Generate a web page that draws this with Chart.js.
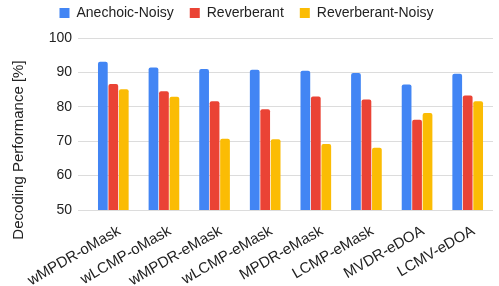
<!DOCTYPE html>
<html lang="en">
<head>
<meta charset="UTF-8">
<title>Decoding Performance</title>
<script src="https://cdn.jsdelivr.net/npm/chart.js@4.4.0/dist/chart.umd.min.js"></script>
<style>
  html, body { margin: 0; padding: 0; background: #fff; }
  #wrap { width: 499px; height: 286px; }
</style>
</head>
<body>
<div id="wrap"><canvas id="chart1"></canvas></div>
<script>
var methods = ['wMPDR-oMask', 'wLCMP-oMask', 'wMPDR-eMask', 'wLCMP-eMask', 'MPDR-eMask', 'LCMP-eMask', 'MVDR-eDOA', 'LCMV-eDOA'];
var anechoicNoisy = [93.1, 91.4, 91.0, 90.8, 90.5, 89.8, 86.5, 89.6];
var reverberant = [86.6, 84.5, 81.6, 79.3, 83.0, 82.1, 76.2, 83.3];
var reverberantNoisy = [85.1, 82.9, 70.7, 70.6, 69.2, 68.1, 78.2, 81.6];
var yTicks = [50, 60, 70, 80, 90, 100];
var yTitle = 'Decoding Performance [%]';

var FONT = "'Liberation Sans', Arial, sans-serif";

// y title sits lower than the scale middle in the original, draw it by hand
var yTitlePlugin = {
  id: 'yTitle',
  afterDraw: function (chart) {
    var c = chart.ctx;
    c.save();
    c.translate(19, 150);
    c.rotate(-Math.PI / 2);
    c.font = '15px ' + FONT;
    c.fillStyle = '#222';
    c.textAlign = 'center';
    c.textBaseline = 'middle';
    c.fillText(yTitle, 0, 0);
    c.restore();
  }
};

// legend sits high up near the top edge, plot starts a bit below
var legendPos = {
  id: 'legendPos',
  beforeInit: function (chart) {
    var fit = chart.legend.fit;
    chart.legend.fit = function () {
      fit.call(this);
      this.height -= 2;
    };
  },
  afterLayout: function (chart) {
    chart.legend.top -= 10;
  }
};

var ctx = document.getElementById('chart1').getContext('2d');
var myChart = new Chart(ctx, {
  type: 'bar',
  data: {
    labels: methods,
    datasets: [
      { label: 'Anechoic-Noisy', data: anechoicNoisy, backgroundColor: '#4285f4' },
      { label: 'Reverberant', data: reverberant, backgroundColor: '#ea4335' },
      { label: 'Reverberant-Noisy', data: reverberantNoisy, backgroundColor: '#fbbc04' }
    ]
  },
  plugins: [yTitlePlugin, legendPos],
  options: {
    responsive: true,
    maintainAspectRatio: false,
    animation: { duration: 0 },
    datasets: {
      bar: {
        categoryPercentage: 0.62,
        barPercentage: 0.93,
        borderRadius: { topLeft: 2, topRight: 2 },
        borderSkipped: 'bottom'
      }
    },
    layout: { padding: { top: 0, right: 6, left: 0, bottom: 0 } },
    plugins: {
      legend: {
        position: 'top',
        labels: {
          font: { family: FONT, size: 14 },
          color: '#222',
          usePointStyle: true,
          pointStyle: 'rect',
          boxWidth: 10,
          boxHeight: 10,
          padding: 16
        }
      },
      tooltip: { enabled: false }
    },
    scales: {
      x: {
        grid: { display: false },
        border: { display: false },
        ticks: {
          font: { family: FONT, size: 15 },
          color: '#222',
          maxRotation: 30,
          minRotation: 30,
          autoSkip: false,
          padding: 4,
          labelOffset: 6
        },
        afterFit: function (scale) { scale.height = 76; }
      },
      y: {
        min: 50,
        max: 100,
        afterBuildTicks: function (scale) {
          scale.ticks = yTicks.map(function (v) { return { value: v }; });
        },
        grid: { color: '#dcdcdc', lineWidth: 1, drawTicks: true, tickLength: 10 },
        border: { display: false },
        ticks: {
          font: { family: FONT, size: 14 },
          color: '#222',
          padding: 6
        },
        afterFit: function (scale) { scale.width = 88; }
      }
    }
  }
});
</script>
</body>
</html>
